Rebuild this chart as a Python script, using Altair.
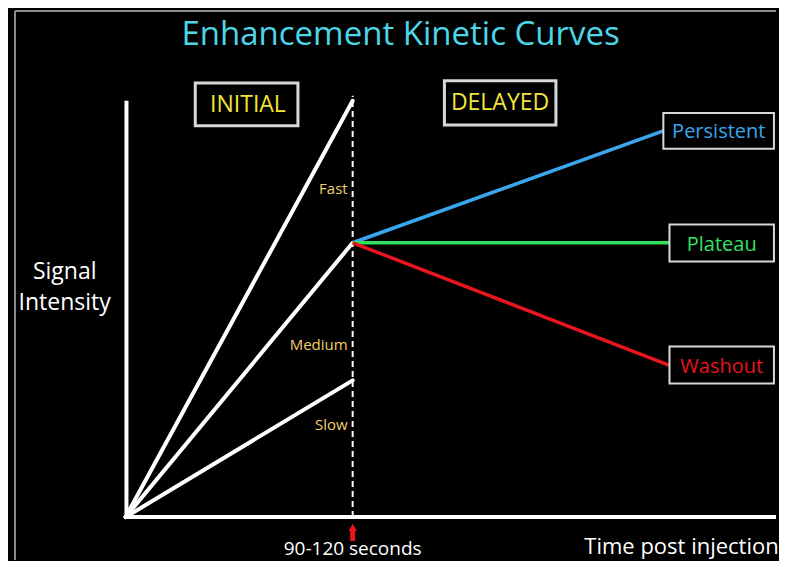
import altair as alt
import pandas as pd

# ---- data (semantic units: time t, 1 = 90-120 s injection mark; signal intensity s) ----
initial_names = ["Fast", "Medium", "Slow"]
initial_end_s = [1.0, 0.659, 0.3285]
injection_t = 1.0

delayed_names = ["Persistent", "Plateau", "Washout"]
delayed_end_t = [2.368, 2.395, 2.395]
delayed_end_s = [0.928, 0.659, 0.3645]
delayed_colors = ["#3aa6ee", "#35e060", "#e8141e"]
label_colors = ["#3b7fe0", "#3ddc5a", "#e8202a"]

phase_names = ["INITIAL", "DELAYED"]

# ---- scales ----
XD = [-0.5176, 2.864]
YD = [-0.1031, 1.2230]
xs = alt.Scale(domain=XD, nice=False, zero=False)
ys = alt.Scale(domain=YD, nice=False, zero=False)

def X(f="t"):
    return alt.X(f"{f}:Q", scale=xs, axis=None)

def Y(f="s"):
    return alt.Y(f"{f}:Q", scale=ys, axis=None)

# ---- build tables ----
init_rows = []
for n, e in zip(initial_names, initial_end_s):
    init_rows.append({"name": n, "t": 0.0, "s": 0.0, "o": 0})
    init_rows.append({"name": n, "t": injection_t, "s": e, "o": 1})
init_df = pd.DataFrame(init_rows)

plateau_s = initial_end_s[1]
del_rows = []
for n, t, e in zip(delayed_names, delayed_end_t, delayed_end_s):
    del_rows.append({"name": n, "t": injection_t, "s": plateau_s, "o": 0})
    del_rows.append({"name": n, "t": t, "s": e, "o": 1})
del_df = pd.DataFrame(del_rows)

init_lines = alt.Chart(init_df).mark_line(color="white", strokeWidth=4, strokeCap="round").encode(
    x=X(), y=Y(), detail="name:N", order="o:Q")

del_lines = alt.Chart(del_df).mark_line(strokeWidth=3.5).encode(
    x=X(), y=Y(), detail="name:N", order="o:Q",
    color=alt.Color("name:N", scale=alt.Scale(domain=delayed_names, range=delayed_colors), legend=None))

axes_df = pd.DataFrame({"t": [0.004, -0.004], "t2": [0.004, 2.864], "s": [0.0, 0.0], "s2": [1.0, 0.0]})
axes = alt.Chart(axes_df).mark_rule(color="white", strokeWidth=4).encode(
    x=X(), x2="t2:Q", y=Y(), y2="s2:Q")

dash_df = pd.DataFrame({"t": [injection_t], "s": [0.0], "s2": [1.012]})
dash = alt.Chart(dash_df).mark_rule(color="white", strokeWidth=2, strokeDash=[6, 4]).encode(
    x=X(), y=Y(), y2="s2:Q")

# frame lines (left & top)
frame_df = pd.DataFrame({"t": [-0.4868, -0.4868], "t2": [-0.4868, 2.864], "s": [-0.1031, 1.2158], "s2": [1.2158, 1.2158]})
frame = alt.Chart(frame_df).mark_rule(color="#8a8a8a", strokeWidth=2).encode(
    x=X(), x2="t2:Q", y=Y(), y2="s2:Q")

# boxes
box_df = pd.DataFrame({
    "name": phase_names + delayed_names,
    "t": [0.307, 1.404, 2.368, 2.395, 2.395],
    "t2": [0.759, 1.895, 2.855, 2.855, 2.855],
    "s": [1.043, 1.048, 0.971, 0.703, 0.410],
    "s2": [0.940, 0.942, 0.885, 0.614, 0.321],
})
boxes_phase = alt.Chart(box_df.iloc[:2]).mark_rect(fill="black", stroke="#d8d8d8", strokeWidth=3).encode(
    x=X(), x2="t2:Q", y=Y(), y2="s2:Q")
boxes_lab = alt.Chart(box_df.iloc[2:]).mark_rect(fill="black", stroke="#d8d8d8", strokeWidth=2).encode(
    x=X(), x2="t2:Q", y=Y(), y2="s2:Q")

FONT = "Open Sans"

phase_df = pd.DataFrame({"name": phase_names, "t": [0.539, 1.649], "s": [0.990, 0.995]})
phase_txt = alt.Chart(phase_df).mark_text(font=FONT, fontSize=23, color="#f2e43a", baseline="middle", align="center").encode(
    x=X(), y=Y(), text="name:N")

lab_df = pd.DataFrame({"name": delayed_names, "t": [2.612, 2.625, 2.625], "s": [0.925, 0.654, 0.3615]})
lab_txt = alt.Chart(lab_df).mark_text(font=FONT, fontSize=20, baseline="middle", align="center").encode(
    x=X(), y=Y(), text="name:N",
    color=alt.Color("name:N", scale=alt.Scale(domain=delayed_names, range=label_colors), legend=None))

speed_df = pd.DataFrame({"name": initial_names, "t": [0.978, 0.978, 0.978], "s": [0.788, 0.414, 0.222]})
speed_txt = alt.Chart(speed_df).mark_text(font=FONT, fontSize=15, color="#f2cf6a", baseline="middle", align="right").encode(
    x=X(), y=Y(), text="name:N")

title_df = pd.DataFrame({"txt": ["Enhancement Kinetic Curves"], "t": [1.211], "s": [1.158]})
title_txt = alt.Chart(title_df).mark_text(font=FONT, fontSize=33, color="#4cd6e8", baseline="middle", align="center").encode(
    x=X(), y=Y(), text="txt:N")

white_df = pd.DataFrame({
    "txt": ["Signal", "Intensity", "Time post injection"],
    "t": [-0.268, -0.268, 2.448],
    "s": [0.589, 0.515, -0.0725],
    "size": [23, 23, 22],
})
white_txt = alt.Chart(white_df).mark_text(font=FONT, color="white", baseline="middle", align="center").encode(
    x=X(), y=Y(), text="txt:N", size=alt.Size("size:Q", scale=None, legend=None))

sec_df = pd.DataFrame({"txt": ["90-120 seconds"], "t": [1.0], "s": [-0.1005]})
sec_txt = alt.Chart(sec_df).mark_text(font=FONT, color="white", fontSize=19, baseline="bottom", align="center").encode(
    x=X(), y=Y(), text="txt:N")

# red arrow
arrow_shaft_df = pd.DataFrame({"t": [injection_t], "s": [-0.030], "s2": [-0.0576]})
arrow_shaft = alt.Chart(arrow_shaft_df).mark_rule(color="#e8141e", strokeWidth=5).encode(
    x=X(), y=Y(), y2="s2:Q")
arrow_head_df = pd.DataFrame({"t": [injection_t], "s": [-0.025]})
arrow_head = alt.Chart(arrow_head_df).mark_point(shape="triangle-up", filled=True, color="#e8141e", size=70, opacity=1).encode(
    x=X(), y=Y())

chart = alt.layer(
    frame, axes, dash, init_lines, del_lines, boxes_phase, boxes_lab,
    phase_txt, lab_txt, speed_txt, title_txt, white_txt, sec_txt, arrow_shaft, arrow_head,
).properties(
    width=771, height=553, padding=0,
    autosize=alt.AutoSizeParams(type="fit", contains="padding"),
).configure(background="black").configure_view(strokeWidth=0)

chart.save("out.html", embed_options={"renderer": "svg", "actions": False})
